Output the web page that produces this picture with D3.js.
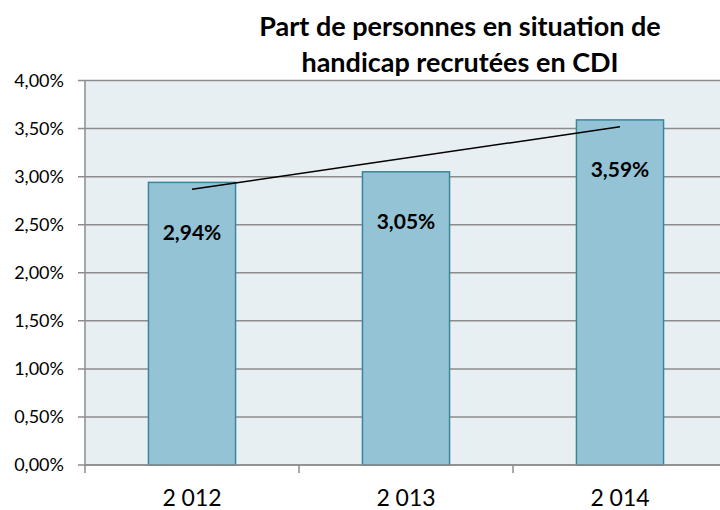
<!DOCTYPE html>
<html>
<head>
<meta charset="utf-8">
<script src="https://cdn.jsdelivr.net/npm/d3@7"></script>
<style>
  body { margin: 0; background: #fff; }
  text { font-family: Lato, "Open Sans", sans-serif; fill: #000; }
</style>
</head>
<body>
<script>
// Chart data
const years = ["2 012", "2 013", "2 014"];
const shares = [2.94, 3.05, 3.59];
const yTicks = [0, 0.5, 1, 1.5, 2, 2.5, 3, 3.5, 4];
const titleLines = ["Part de personnes en situation de", "handicap recrutées en CDI"];

const W = 720, H = 510;
const plot = { left: 85, top: 80.5, right: 727, bottom: 465 };

const svg = d3.select("body").append("svg")
    .attr("width", W)
    .attr("height", H);

// Scales
const x = d3.scaleBand()
    .domain(years)
    .range([plot.left, plot.right]);
const barW = x.bandwidth() * 0.407;

const y = d3.scaleLinear()
    .domain([0, 4])
    .range([plot.bottom, plot.top]);

const fmt = v => d3.format(".2f")(v).replace(".", ",") + "%";

// Plot background
svg.append("rect")
    .attr("x", plot.left).attr("y", plot.top)
    .attr("width", plot.right - plot.left)
    .attr("height", plot.bottom - plot.top)
    .attr("fill", "#e8eff3");

// Gridlines
svg.append("g")
    .selectAll("line")
    .data(yTicks)
    .enter().append("line")
    .attr("x1", plot.left - 7).attr("x2", plot.right)
    .attr("y1", d => y(d)).attr("y2", d => y(d))
    .attr("stroke", "#8c8c8c")
    .attr("stroke-width", 1.5);

// Y axis labels
svg.append("g")
    .selectAll("text")
    .data(yTicks)
    .enter().append("text")
    .attr("x", plot.left - 21)
    .attr("y", d => y(d))
    .attr("dy", "0.35em")
    .attr("text-anchor", "end")
    .style("font-size", "18px")
    .text(fmt);

// Y axis line
svg.append("line")
    .attr("x1", plot.left).attr("x2", plot.left)
    .attr("y1", plot.top).attr("y2", plot.bottom + 8)
    .attr("stroke", "#8c8c8c")
    .attr("stroke-width", 1.5);

// Category separators on the x axis
svg.append("g")
    .selectAll("line")
    .data(years.slice(1))
    .enter().append("line")
    .attr("x1", d => x(d)).attr("x2", d => x(d))
    .attr("y1", plot.bottom).attr("y2", plot.bottom + 8)
    .attr("stroke", "#8c8c8c")
    .attr("stroke-width", 1.5);

// Bars
svg.append("g")
    .selectAll("rect")
    .data(shares)
    .enter().append("rect")
    .attr("x", (d, i) => x(years[i]) + x.bandwidth() / 2 - barW / 2)
    .attr("y", d => y(d))
    .attr("width", barW)
    .attr("height", d => y(0) - y(d))
    .attr("fill", "#93c3d5")
    .attr("stroke", "#3a8599")
    .attr("stroke-width", 1.5);

// Zero line over the bars
svg.append("line")
    .attr("x1", plot.left).attr("x2", plot.right)
    .attr("y1", y(0)).attr("y2", y(0))
    .attr("stroke", "#8c8c8c")
    .attr("stroke-width", 1.5);

// Linear trend line (least squares over the three years)
const n = shares.length;
const xs = d3.range(1, n + 1);
const mx = d3.mean(xs), my = d3.mean(shares);
const slope = d3.sum(xs, (t, i) => (t - mx) * (shares[i] - my)) / d3.sum(xs, t => (t - mx) * (t - mx));
const icpt = my - slope * mx;
const cx = i => x(years[i]) + x.bandwidth() / 2;
svg.append("line")
    .attr("x1", cx(0)).attr("y1", y(icpt + slope * 1))
    .attr("x2", cx(n - 1)).attr("y2", y(icpt + slope * n))
    .attr("stroke", "#000")
    .attr("stroke-width", 1.5);

// Value labels
svg.append("g")
    .selectAll("text")
    .data(shares)
    .enter().append("text")
    .attr("x", (d, i) => cx(i))
    .attr("y", d => y(d) + 50)
    .attr("dy", "0.35em")
    .attr("text-anchor", "middle")
    .style("font-size", "21px")
    .style("font-weight", "bold")
    .text(fmt);

// X axis labels
svg.append("g")
    .selectAll("text")
    .data(years)
    .enter().append("text")
    .attr("x", (d, i) => cx(i))
    .attr("y", 506)
    .attr("text-anchor", "middle")
    .style("font-size", "23px")
    .text(d => d);

// Title
svg.append("g")
    .selectAll("text")
    .data(titleLines)
    .enter().append("text")
    .attr("x", 460)
    .attr("y", (d, i) => 36 + i * 36)
    .attr("text-anchor", "middle")
    .style("font-size", "27px")
    .style("font-weight", "bold")
    .text(d => d);
</script>
</body>
</html>
